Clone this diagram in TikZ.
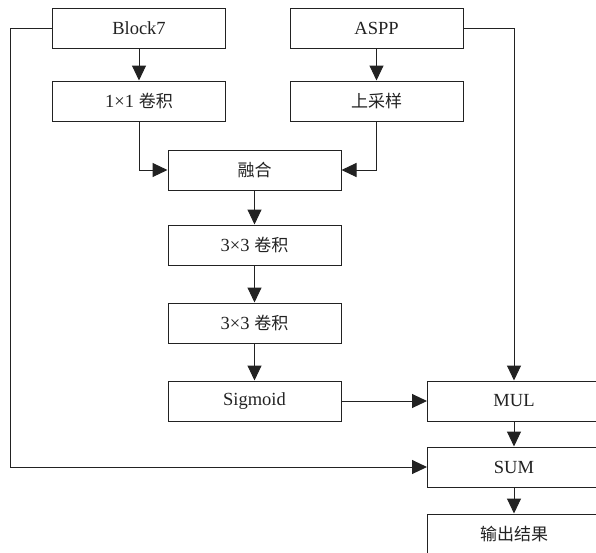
\documentclass[tikz,border=0pt]{standalone}
\usepackage{fontspec}
\setmainfont{Liberation Serif}
\newfontfamily\cjk{Noto Sans CJK SC}
\usetikzlibrary{arrows.meta}
\definecolor{ink}{HTML}{222222}
\newcommand{\zh}[1]{{\cjk\fontsize{17}{20}\selectfont #1}}
\tikzset{
  blk/.style={draw=ink, line width=1pt, minimum width=173pt, minimum height=40pt,
    inner sep=0pt, font=\fontsize{18.5}{21}\selectfont, text=ink},
  link/.style={draw=ink, line width=1pt, -{Triangle[length=15pt,width=14pt]}},
}
\begin{document}
\begin{tikzpicture}[x=1pt,y=-1pt]
  \useasboundingbox (0,0) rectangle (596,552);
  \clip (0,0) rectangle (596,552);
  % feature sources
  \node[blk] (b7)   at (139,28)    {Block7};
  \node[blk] (aspp) at (376.5,28)  {ASPP};
  \node[blk] (c11)  at (139,101)   {1×1 \zh{卷积}};
  \node[blk] (up)   at (376.5,101) {\zh{上采样}};
  % fusion branch
  \node[blk] (fuse) at (254.5,170) {\zh{融合}};
  \node[blk] (c3a)  at (254.5,245) {3×3 \zh{卷积}};
  \node[blk] (c3b)  at (254.5,323) {3×3 \zh{卷积}};
  \node[blk] (sig)  at (254.5,401) {Sigmoid};
  % output column
  \node[blk] (mul)  at (514,401)   {MUL};
  \node[blk] (sum)  at (514,467)   {SUM};
  \node[blk] (out)  at (514,534)   {\zh{输出结果}};
  % connectors
  \draw[link] (b7) -- (c11);
  \draw[link] (aspp) -- (up);
  \draw[link] (c11.south) |- (fuse.west);
  \draw[link] (up.south) |- (fuse.east);
  \draw[link] (fuse) -- (c3a);
  \draw[link] (c3a) -- (c3b);
  \draw[link] (c3b) -- (sig);
  \draw[link] (sig) -- (mul);
  \draw[link] (aspp.east) -| (mul.north);
  \coordinate (lft) at (10,28);
  \draw[link] (b7.west) -- (lft) |- (sum.west);
  \draw[link] (mul) -- (sum);
  \draw[link] (sum) -- (out);
\end{tikzpicture}
\end{document}
